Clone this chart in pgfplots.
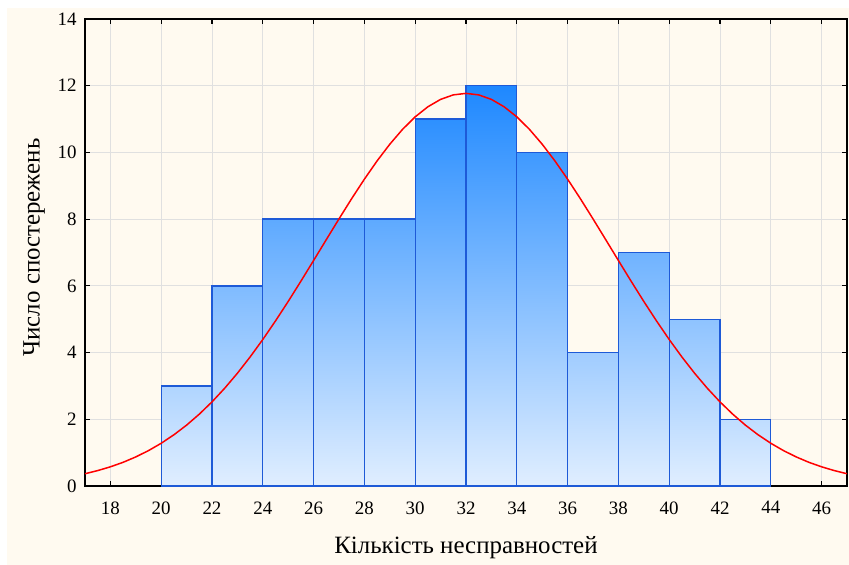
\documentclass[border=0pt]{standalone}
\usepackage{pgfplots}
\pgfplotsset{compat=1.18}
\usepackage{fontspec}
\setmainfont{Liberation Serif}
\definecolor{bgc}{RGB}{255,250,240}
\definecolor{barTop}{RGB}{30,136,255}
\definecolor{barBot}{RGB}{224,238,255}
\definecolor{barEdge}{RGB}{30,90,215}
\definecolor{gridc}{RGB}{224,224,224}
\pgfplotsset{mybar/.style={ybar, bar width=2, bar shift=0pt, draw=barEdge, line width=1.3bp, bottom color=barBot}}
\begin{document}
\begin{tikzpicture}
\fill[white] (-85bp,-79bp) rectangle (764bp,486bp);
\fill[bgc] (-78bp,-79bp) rectangle (764bp,478bp);
\begin{axis}[
  at={(0,0)}, anchor=south west, scale only axis,
  width=762bp, height=467bp,
  xmin=17, xmax=47, ymin=0, ymax=14,
  xtick={18,20,...,46}, ytick={0,2,...,14},
  grid=major, major grid style={gridc, line width=0.8bp},
  axis line style={black, line width=1.6bp},
  tick style={black, line width=1.2bp}, tick align=inside, major tick length=5bp,
  tick label style={font=\fontsize{19}{21}\selectfont},
  xticklabel style={yshift=-12bp},
  yticklabel style={xshift=-5bp},
  /pgf/number format/assume math mode=true,
  xlabel={Кількість несправностей}, ylabel={Число спостережень},
  label style={font=\fontsize{25}{27}\selectfont},
  xlabel style={at={(axis description cs:0.5,0)}, anchor=center, yshift=-62bp},
  ylabel style={at={(axis description cs:0,0.5)}, anchor=center, yshift=51bp, xshift=5bp},
]
\addplot[mybar, top color=barTop!25!barBot] coordinates {(21,3)};
\addplot[mybar, top color=barTop!50!barBot] coordinates {(23,6)};
\addplot[mybar, top color=barTop!67!barBot] coordinates {(25,8)};
\addplot[mybar, top color=barTop!67!barBot] coordinates {(27,8)};
\addplot[mybar, top color=barTop!67!barBot] coordinates {(29,8)};
\addplot[mybar, top color=barTop!92!barBot] coordinates {(31,11)};
\addplot[mybar, top color=barTop!100!barBot] coordinates {(33,12)};
\addplot[mybar, top color=barTop!83!barBot] coordinates {(35,10)};
\addplot[mybar, top color=barTop!33!barBot] coordinates {(37,4)};
\addplot[mybar, top color=barTop!58!barBot] coordinates {(39,7)};
\addplot[mybar, top color=barTop!42!barBot] coordinates {(41,5)};
\addplot[mybar, top color=barTop!17!barBot] coordinates {(43,2)};
\addplot[red, line width=1.5bp] coordinates {
(17,0.368) (17.5,0.462) (18,0.575) (18.5,0.710) (19,0.872) (19.5,1.061)
(20,1.281) (20.5,1.535) (21,1.825) (21.5,2.154) (22,2.522) (22.5,2.931)
(23,3.380) (23.5,3.868) (24,4.392) (24.5,4.949) (25,5.533) (25.5,6.140)
(26,6.760) (26.5,7.386) (27,8.008) (27.5,8.616) (28,9.199) (28.5,9.746)
(29,10.246) (29.5,10.690) (30,11.067) (30.5,11.369) (31,11.590) (31.5,11.725)
(32,11.770)
(32.5,11.725) (33,11.590) (33.5,11.369) (34,11.067) (34.5,10.690) (35,10.246)
(35.5,9.746) (36,9.199) (36.5,8.616) (37,8.008) (37.5,7.386) (38,6.760)
(38.5,6.140) (39,5.533) (39.5,4.949) (40,4.392) (40.5,3.868) (41,3.380)
(41.5,2.931) (42,2.522) (42.5,2.154) (43,1.825) (43.5,1.535) (44,1.281)
(44.5,1.061) (45,0.872) (45.5,0.710) (46,0.575) (46.5,0.462) (47,0.368)
};
\end{axis}
\pgfresetboundingbox
\path[use as bounding box] (-85bp,-79bp) rectangle (764bp,486bp);
\end{tikzpicture}
\end{document}
